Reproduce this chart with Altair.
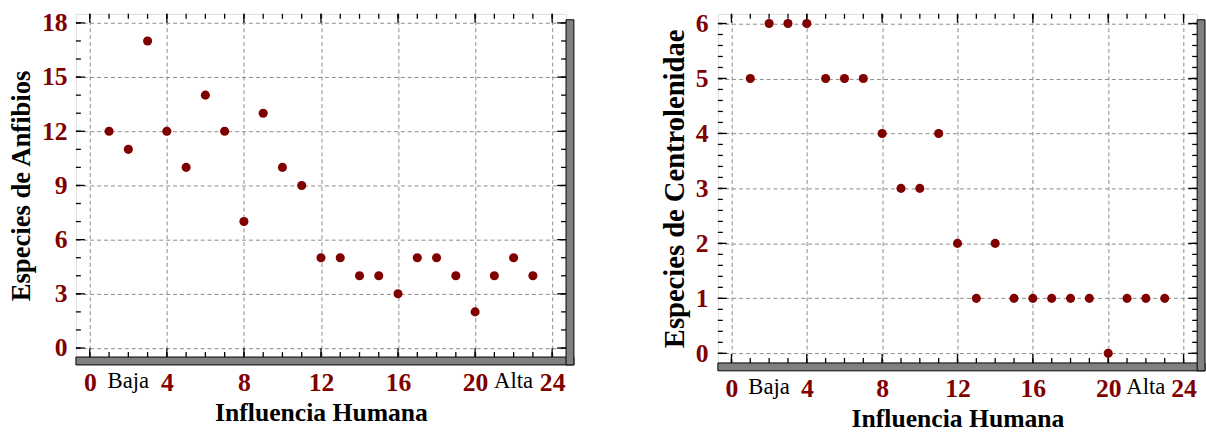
import altair as alt
import pandas as pd

# ---- data ----
influencia = list(range(1, 24))
anfibios = [12, 11, 17, 12, 10, 14, 12, 7, 13, 10, 9, 5, 5, 4, 4, 3, 5, 5, 4, 2, 4, 5, 4]
centrolenidae = [5, 6, 6, 6, 5, 5, 5, 4, 3, 3, 4, 2, 1, 2, 1, 1, 1, 1, 1, 0, 1, 1, 1]

x_major = [0, 4, 8, 12, 16, 20, 24]
x_minor = list(range(0, 25))
y1_major = [0, 3, 6, 9, 12, 15, 18]
y1_minor = list(range(0, 19))
y2_major = [0, 1, 2, 3, 4, 5, 6]
y2_minor = [i / 5 for i in range(0, 31)]
annot_x = [2, 22]
annot_text = ["Baja", "Alta"]

DARK = "#800000"
FONT = "Liberation Serif"
MAJ = 9
MIN = 5
SH = 8


def panel(yvals, ytitle, ymajor, yminor, ydomain, W, H, ylabpad, ytitlesize):
    xscale = alt.Scale(domain=[-0.72, 24.72], nice=False, zero=False)
    yscale = alt.Scale(domain=ydomain, nice=False, zero=False)
    xaxis = alt.Axis(values=x_major, grid=True, gridDash=[4, 3], gridColor="#8a8a8a",
                     gridWidth=1, ticks=False, domain=False, labelFont=FONT,
                     labelFontSize=26, labelFontWeight="bold", labelColor=DARK,
                     labelPadding=13, title="Influencia Humana", titleFont=FONT,
                     titleFontSize=26, titleFontWeight="bold", titleColor="black",
                     titlePadding=4, labelFlush=False)
    yaxis = alt.Axis(values=ymajor, grid=True, gridDash=[4, 3], gridColor="#8a8a8a",
                     gridWidth=1, ticks=False, domain=False, labelFont=FONT,
                     labelFontSize=26, labelFontWeight="bold", labelColor=DARK,
                     labelPadding=ylabpad, title=ytitle, titleFont=FONT,
                     titleFontSize=ytitlesize, titleFontWeight="bold", titleColor="black",
                     titlePadding=6, labelFlush=False)

    one = pd.DataFrame({"k": [0]})
    shadow_bottom = alt.Chart(one).mark_rect(fill="#808080", stroke="black", strokeWidth=1).encode(
        x=alt.value(0), x2=alt.value(W + SH), y=alt.value(H), y2=alt.value(H + SH))
    shadow_right = alt.Chart(one).mark_rect(fill="#808080", stroke="black", strokeWidth=1).encode(
        x=alt.value(W), x2=alt.value(W + SH), y=alt.value(6), y2=alt.value(H + SH))

    pts_df = pd.DataFrame({"x": influencia, "y": yvals})
    points = alt.Chart(pts_df).mark_point(filled=True, shape="circle", size=85,
                                          color=DARK, opacity=1).encode(
        x=alt.X("x:Q", scale=xscale, axis=xaxis),
        y=alt.Y("y:Q", scale=yscale, axis=yaxis))

    ymin_df = pd.DataFrame({"y": yminor})
    ymaj_df = pd.DataFrame({"y": ymajor})
    xmin_df = pd.DataFrame({"x": x_minor})
    xmaj_df = pd.DataFrame({"x": x_major})

    def yticks(df, length):
        left = alt.Chart(df).mark_rule(color="black", strokeWidth=1.3).encode(
            y=alt.Y("y:Q", scale=yscale, axis=yaxis), x=alt.value(0), x2=alt.value(length))
        right = alt.Chart(df).mark_rule(color="black", strokeWidth=1.3).encode(
            y=alt.Y("y:Q", scale=yscale, axis=yaxis), x=alt.value(W - length), x2=alt.value(W))
        return [left, right]

    def xticks(df, length):
        bottom = alt.Chart(df).mark_rule(color="black", strokeWidth=1.3).encode(
            x=alt.X("x:Q", scale=xscale, axis=xaxis), y=alt.value(H - length), y2=alt.value(H))
        top = alt.Chart(df).mark_rule(color="black", strokeWidth=1.3).encode(
            x=alt.X("x:Q", scale=xscale, axis=xaxis), y=alt.value(0), y2=alt.value(length))
        return [bottom, top]

    ann_df = pd.DataFrame({"x": annot_x, "t": annot_text})
    ann = alt.Chart(ann_df).mark_text(font=FONT, fontSize=23, color="black",
                                      baseline="top", align="center").encode(
        x=alt.X("x:Q", scale=xscale, axis=xaxis), y=alt.value(H + 13), text="t:N")

    layers = [shadow_bottom, shadow_right] + yticks(ymin_df, MIN) + yticks(ymaj_df, MAJ) \
        + xticks(xmin_df, MIN) + xticks(xmaj_df, MAJ) + [points, ann]
    return alt.layer(*layers).properties(width=W, height=H)


left = panel(anfibios, "Especies de Anfibios", y1_major, y1_minor, [-0.5, 18.5], 497, 348, 9, 27)
right = panel(centrolenidae, "Especies de Centrolenidae", y2_major, y2_minor,
              [-0.175, 6.175], 486, 354, 10, 29)

chart = alt.hconcat(left, right, spacing=86).properties(
    padding={"left": 7, "top": 6, "right": 0, "bottom": 0}
).configure_view(stroke="black", strokeWidth=1.5).configure(background="white")

chart.save("out.html", embed_options={"renderer": "svg", "actions": False})
